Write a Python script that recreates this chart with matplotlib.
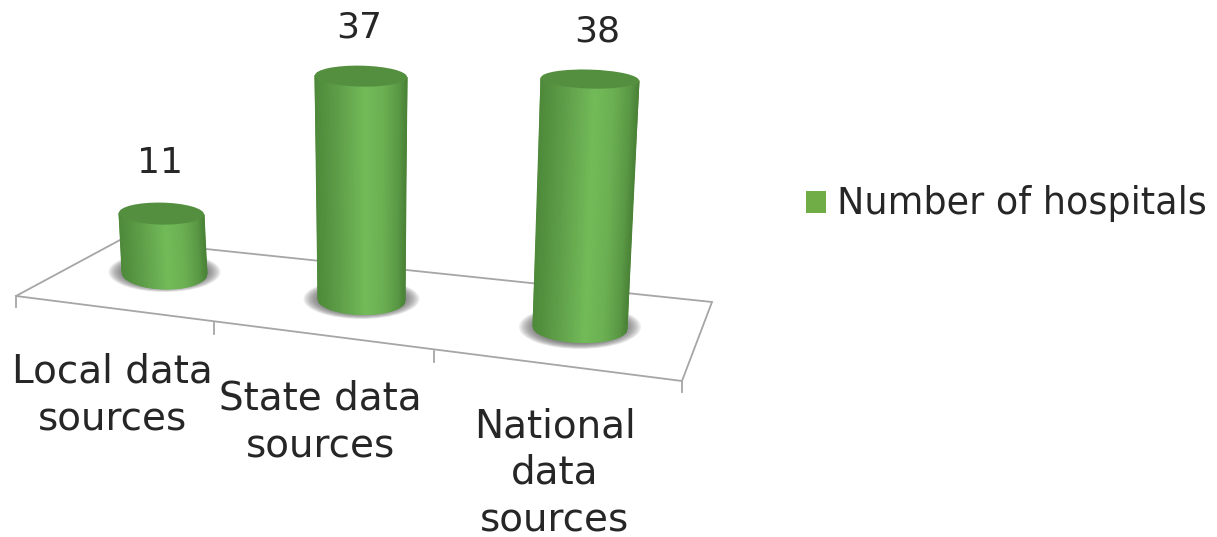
"""Fake-3D cylinder column chart, hospitals per data source level."""

import matplotlib
matplotlib.use('Agg')
import matplotlib.pyplot as plt
import numpy as np
from matplotlib.colors import LinearSegmentedColormap
from matplotlib.patches import Ellipse, Patch

W, H = 1217, 537

categories = ['Local data\nsources', 'State data\nsources', 'National\ndata\nsources']
values = [11, 37, 38]
series_name = 'Number of hospitals'

# perspective layout of each cylinder, in pixels
base_cx = [164.5, 361.5, 580.0]
base_cy = [273.0, 300.0, 328.0]
base_rx = [42.5, 43.5, 47.0]
base_ry = [16.0, 14.5, 14.5]
px_per_unit = [5.40, 6.05, 6.55]
top_cx = [161.5, 361.0, 590.0]
top_rx = [42.5, 46.0, 49.0]
top_ry = [11.0, 10.5, 9.5]
tilt = [0.02, 0.02, 0.03]
shadow_rx = [56, 58, 61]
shadow_ry = [20, 20, 22]

label_xy = [(112, 395), (320, 422), (555, 473)]
value_xy = [(160, 163), (359, 28), (597, 31)]

floor = [(16, 296), (682, 381), (712, 302), (120, 240), (16, 296)]
ticks = [(16, 296), (214, 323), (434, 351), (682, 381)]

GREEN = '#70ad47'
TEXT = '#262626'
plt.rcParams['font.family'] = ['DejaVu Sans']
side_cmap = LinearSegmentedColormap.from_list(
    'side', [(0, '#4e8a3a'), (0.25, '#5f9e49'), (0.55, '#73bb59'),
             (0.75, '#6bb052'), (0.92, '#5a9845'), (1, '#4b8337')])

fig = plt.figure(figsize=(W / 100, H / 100), dpi=100)
ax = fig.add_axes([0, 0, 1, 1])
ax.set_xlim(0, W)
ax.set_ylim(H, 0)
ax.axis('off')

# ── Floor ─────────────────────────────────────────────────────────────────
ax.plot(*zip(*floor), color='#a6a6a6', lw=1.3, zorder=1, solid_joinstyle='miter')
for tx, ty in ticks:
    ax.plot([tx, tx], [ty, ty + 11], color='#a6a6a6', lw=1.3, zorder=1)

# ── Cylinders ─────────────────────────────────────────────────────────────
for i, v in enumerate(values):
    for f in np.linspace(1, 0.7, 14):
        ax.add_patch(Ellipse((base_cx[i], base_cy[i] - 1), 2 * shadow_rx[i] * f,
                             2 * shadow_ry[i] * f, fc='#666666', ec='none',
                             alpha=0.11, zorder=2))

    top_y = base_cy[i] - v * px_per_unit[i]
    u = np.linspace(-1, 1, 80)
    arc = np.sqrt(1 - u ** 2)
    X = np.vstack([top_cx[i] + top_rx[i] * u, base_cx[i] + base_rx[i] * u])
    Y = np.vstack([top_y + top_ry[i] * arc + tilt[i] * top_rx[i] * u,
                   base_cy[i] + base_ry[i] * arc + tilt[i] * base_rx[i] * u])
    C = np.vstack([(u + 1) / 2, (u + 1) / 2])
    ax.pcolormesh(X, Y, C, cmap=side_cmap, shading='gouraud', zorder=3, vmin=0, vmax=1)

    ax.add_patch(Ellipse((top_cx[i], top_y), 2 * top_rx[i], 2 * top_ry[i],
                         angle=np.degrees(np.arctan(tilt[i])), fc='#548f3f',
                         ec='none', zorder=4))

    ax.text(*value_xy[i], str(v), ha='center', va='center', fontsize=26, color=TEXT)
    ax.text(*label_xy[i], categories[i], ha='center', va='center', fontsize=28,
            color=TEXT, linespacing=1.29, multialignment='center')

# ── Legend ────────────────────────────────────────────────────────────────
ax.legend(handles=[Patch(fc=GREEN, label=series_name)], loc='center left',
          bbox_to_anchor=(806, 204), bbox_transform=ax.transData, frameon=False,
          fontsize=26.3, labelcolor=TEXT, handlelength=0.55, handleheight=0.55,
          handletextpad=0.3, borderpad=0, borderaxespad=0)

fig.savefig('out.png', dpi=100)
